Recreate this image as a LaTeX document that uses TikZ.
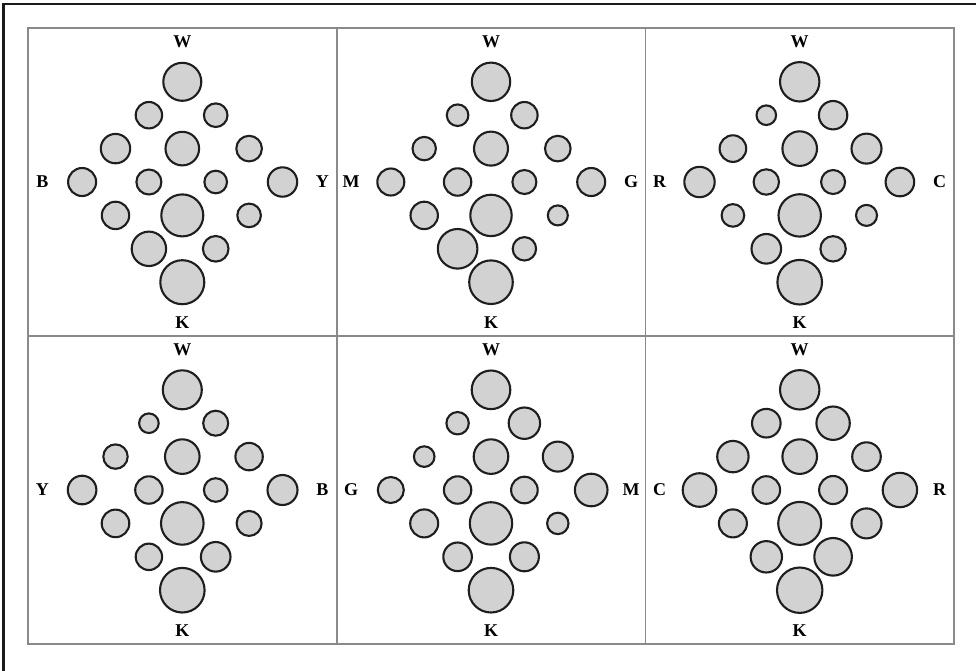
\documentclass[tikz,border=0pt]{standalone}
\usepackage{fontspec}
\setmainfont{Liberation Serif}
\definecolor{dotfill}{HTML}{D2D2D2}
\definecolor{dotline}{HTML}{1E1E1E}
\definecolor{gridgray}{HTML}{8A8A8A}
\definecolor{framecol}{HTML}{1A1A1A}
\begin{document}
\begin{tikzpicture}[x=1pt,y=-1pt,
  dot/.style={draw=dotline,fill=dotfill,line width=2.1pt},
  lab/.style={font=\fontsize{18}{21}\selectfont\bfseries,inner sep=0pt,text=black},
  gridline/.style={draw=gridgray,line width=1.6pt},
  framestyle/.style={draw=framecol,line width=2.2pt}]
\useasboundingbox (0,0) rectangle (976,670);
\clip (0,0) rectangle (976,670);
% outer frame (only top and left edges lie inside the picture)
\draw[framestyle] (3.5,4) rectangle (1000,700);
% panel grid
\draw[gridline] (28,28) rectangle (954,644);
\draw[gridline] (336.7,28) -- (336.7,644);
\draw[gridline] (645.3,28) -- (645.3,644);
\draw[gridline] (28,336) -- (954,336);
% panels
\foreach \cx/\cy/\Ll/\Rl/\rads [count=\p] in {
  182.3/182/B/Y/{19,13.2,11.8,14.7,16.8,12.8,14,12.5,11.3,14.7,13.7,21,11.8,17.2,12.8,22},
  491.0/182/M/G/{19.2,10.8,13.2,11.7,17,12.8,13.5,13.7,12,14,13.7,20.7,10,19.8,11.7,21.8},
  799.7/182/R/C/{19.7,9.8,14.2,13.3,17.3,15,15.2,12.7,12,14.3,11.3,21.2,10.5,14.8,12.7,22.3},
  182.3/490/Y/B/{19.5,9.8,12.5,12.2,17.3,13.7,14.3,13.7,11.8,15,13.8,21.3,12.5,13.2,14.8,22.3},
  491.0/490/G/M/{19.3,11.2,15.7,10.3,17.3,15,13,13.7,13.3,16.3,14,21.2,10.7,14.3,14.5,22.3},
  799.7/490/C/R/{19.7,14.3,16.7,15.7,17.3,14.3,16.8,13.8,14,17.2,14,21.5,15,15.7,18.8,22.7}}
{
  \foreach \dx/\dy [count=\i from 0] in {0/-3,-1/-2,1/-2,-2/-1,0/-1,2/-1,-3/0,-1/0,1/0,3/0,-2/1,0/1,2/1,-1/2,1/2,0/3}
  {
    \pgfmathsetmacro\rr{{\rads}[\i]}
    \draw[dot] ({\cx+\dx*33.4},{\cy+\dy*33.4}) circle[radius=\rr];
  }
  \node[lab] (top\p) at (\cx,\cy-140.5) {W};
  \node[lab] (bot\p) at (\cx,\cy+140.5) {K};
  \node[lab] (left\p) at (\cx-140,\cy) {\Ll};
  \node[lab] (right\p) at (\cx+140,\cy) {\Rl};
}
\end{tikzpicture}
\end{document}
